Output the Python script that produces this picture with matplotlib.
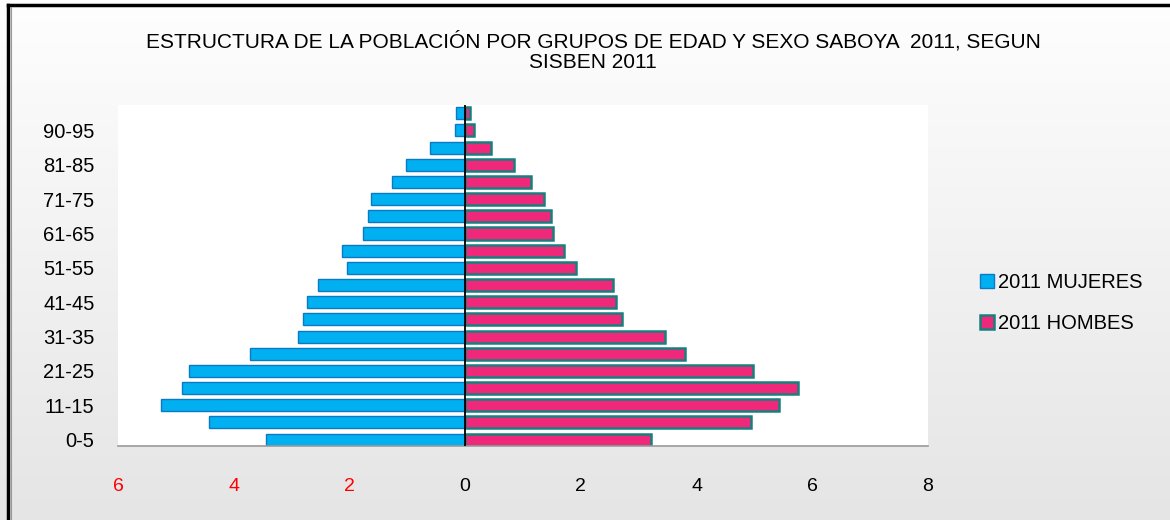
import matplotlib
matplotlib.use("Agg")
import matplotlib.pyplot as plt
import numpy as np
from matplotlib.patches import Patch
from matplotlib.lines import Line2D
from matplotlib.colors import LinearSegmentedColormap

plt.rcParams['font.family'] = ['Liberation Sans', 'DejaVu Sans']

# ---- data (bottom to top) ----
age_groups = ["0-5", "6-10", "11-15", "16-20", "21-25", "26-30", "31-35", "36-40",
              "41-45", "46-50", "51-55", "56-60", "61-65", "66-70", "71-75", "76-80",
              "81-85", "86-90", "90-95", "96-100"]
mujeres = [3.44, 4.43, 5.26, 4.89, 4.78, 3.71, 2.89, 2.80, 2.74, 2.55,
           2.05, 2.13, 1.76, 1.68, 1.63, 1.26, 1.03, 0.60, 0.18, 0.16]
hombres = [3.21, 4.94, 5.42, 5.75, 4.97, 3.80, 3.45, 2.71, 2.60, 2.56,
           1.91, 1.70, 1.52, 1.48, 1.37, 1.14, 0.84, 0.45, 0.15, 0.09]
x_ticks = [-6, -4, -2, 0, 2, 4, 6, 8]
x_tick_labels = ["6", "4", "2", "0", "2", "4", "6", "8"]
x_tick_colors = ["red", "red", "red", "black", "black", "black", "black", "black"]
title = "ESTRUCTURA DE LA POBLACIÓN POR GRUPOS DE EDAD Y SEXO SABOYA  2011, SEGUN\nSISBEN 2011"
legend_labels = ["2011 MUJERES", "2011 HOMBES"]

blue = "#00B0F0"
blue_edge = "#0B79C4"
pink = "#F0287A"
pink_edge = "#17807E"

fig = plt.figure(figsize=(11.7, 5.2), dpi=100)

# background gradient
bg = fig.add_axes([0, 0, 1, 1], zorder=-10)
grad = np.linspace(0, 1, 256).reshape(-1, 1)
cmap = LinearSegmentedColormap.from_list("g", ["#FEFEFE", "#E5E5E5"])
bg.imshow(grad, aspect="auto", cmap=cmap, extent=[0, 1, 0, 1], origin="upper")
bg.set_xlim(0, 1); bg.set_ylim(0, 1)
bg.axis("off")
# borders (left and top)
bg.add_line(Line2D([8/1170, 8/1170], [0, 1 - 5/520], color="black", lw=2.5))
bg.add_line(Line2D([8/1170, 1], [1 - 5/520, 1 - 5/520], color="black", lw=2.5))
bg.add_line(Line2D([10.5/1170, 10.5/1170], [0, 1 - 6.5/520], color="#999999", lw=0.8))

ax = fig.add_axes([118/1170, (520-446)/520, (928-118)/1170, (446-105)/520])
ax.set_facecolor("white")
y = np.arange(len(age_groups))
h = 0.7
ax.barh(y, [-v for v in mujeres], height=h, color=blue, edgecolor=blue_edge, linewidth=1.0, zorder=2)
ax.barh(y, hombres, height=h, color=pink, edgecolor=pink_edge, linewidth=1.8, zorder=2)
ax.axvline(0, color="black", lw=1.3, zorder=3)

ax.set_xlim(-6, 8)
ax.set_ylim(-0.37, 19.48)
for s in ["top", "right", "left"]:
    ax.spines[s].set_visible(False)
ax.spines["bottom"].set_color("#9A9A9A")
ax.spines["bottom"].set_linewidth(1.2)

ax.set_yticks(y[::2])
ax.set_yticklabels(age_groups[::2], fontsize=14.5)
ax.tick_params(axis="y", length=0, pad=17)
ax.set_xticks(x_ticks)
ax.set_xticklabels(x_tick_labels, fontsize=14)
for lbl, c in zip(ax.get_xticklabels(), x_tick_colors):
    lbl.set_color(c)
ax.tick_params(axis="x", length=0, pad=23)

fig.text(593/1170, 1 - 52/520, title, ha="center", va="center", fontsize=15,
         linespacing=1.1)

handles = [Patch(facecolor=blue, edgecolor=blue_edge, linewidth=1.0),
           Patch(facecolor=pink, edgecolor=pink_edge, linewidth=1.8)]
fig.legend(handles, legend_labels, loc="center left", bbox_to_anchor=(962/1170, 1 - 303/520),
           frameon=False, fontsize=14.5, handlelength=0.7, handleheight=0.7,
           handletextpad=0.2, labelspacing=1.1)

fig.savefig("out.png", dpi=100)
